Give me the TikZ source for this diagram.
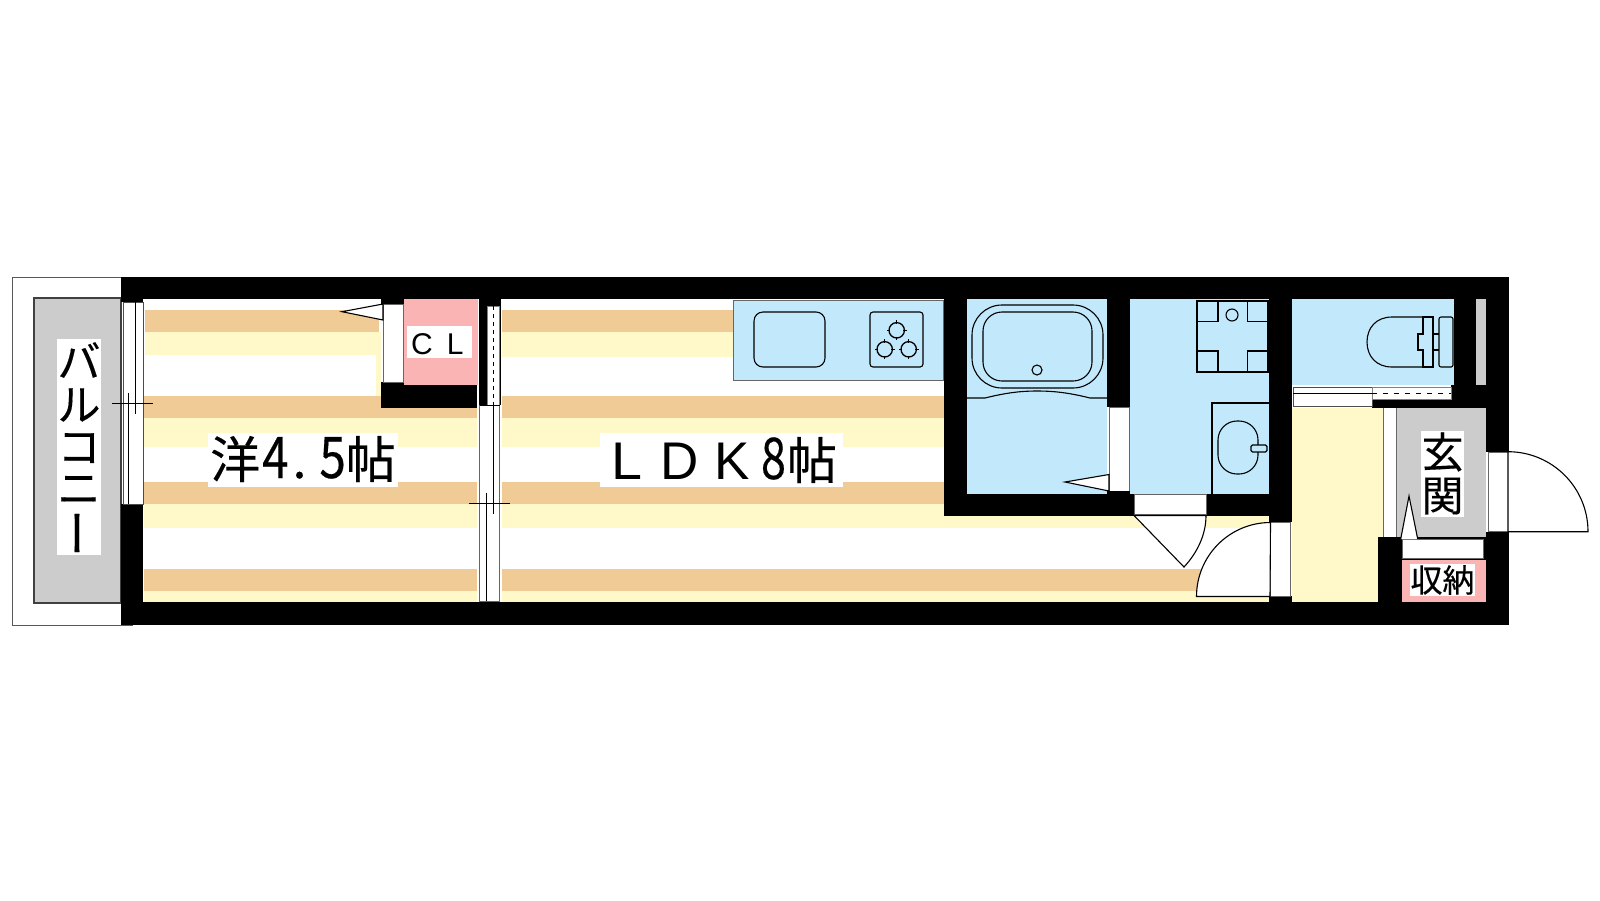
\documentclass[tikz,border=0pt]{standalone}
\usepackage{fontspec}
\newfontfamily\cjk[FakeBold=0.35]{Noto Sans CJK JP}
\newfontfamily\latn{Liberation Sans}
\definecolor{orangeband}{HTML}{F0CB96}
\definecolor{yellowband}{HTML}{FFF8C8}
\definecolor{wetblue}{HTML}{C2E9FB}
\definecolor{pinkbox}{HTML}{FAB4B4}
\definecolor{greyfloor}{HTML}{CCCCCC}
\definecolor{doorgrey}{HTML}{666666}
\tikzset{
  wall/.style={fill=black,draw=none},
  leaf/.style={draw=black,line width=1.1pt,fill=white,line join=miter},
  fixture/.style={draw=black,line width=1.1pt},
  door/.style={draw=doorgrey,line width=1pt,fill=white},
  rail/.style={draw=black,line width=1pt},
  label/.style={fill=none,inner sep=0pt,font=\cjk,text=black,align=center},
}
\begin{document}
\begin{tikzpicture}[x=1pt,y=-1pt]
\useasboundingbox (0,0) rectangle (1600,900);
\fill[white] (0,0) rectangle (1600,900);
% balcony
\draw[black!65,line width=1pt] (133,277) -- (12,277) -- (12,625) -- (133,625);
\draw[fill=greyfloor,draw=black!75,line width=1.2pt] (34,298) rectangle (121,603);
% stripes, west room
\foreach \xa/\xb in {144/477,502/944}{
  \fill[orangeband] (\xa,396) rectangle (\xb,418);
  \fill[yellowband] (\xa,418) rectangle (\xb,447);
  \fill[orangeband] (\xa,482) rectangle (\xb,504);
  \fill[yellowband] (\xa,504) rectangle (\xb,528);
}
\fill[orangeband] (145,310) rectangle (379,332);
\fill[yellowband] (145,332) rectangle (381,355);
\fill[yellowband] (376,355) rectangle (381,396);
\fill[orangeband] (144,569) rectangle (477,591);
\fill[yellowband] (144,591) rectangle (477,602);
% stripes, LDK
\fill[orangeband] (502,310) rectangle (733,332);
\fill[yellowband] (502,332) rectangle (733,357);
\fill[yellowband] (944,516) rectangle (1269,528);
\fill[orangeband] (502,569) rectangle (1269,591);
\fill[yellowband] (502,591) rectangle (1269,602);
% wet rooms
\fill[wetblue] (967,299) rectangle (1107,494);
\fill[wetblue] (1130,299) rectangle (1269,494);
\fill[wetblue] (1292,299) rectangle (1454,385);
\draw[fill=wetblue,draw=black!60,line width=1pt] (733,300) rectangle (943,380);
% hall and entry
\fill[yellowband] (1292,408) rectangle (1383,602);
\fill[greyfloor] (1396,408) rectangle (1486,537);
\fill[greyfloor] (1476,299) rectangle (1486,385);
\fill[pinkbox] (404,299) rectangle (478,385);
\fill[pinkbox] (1400,560) rectangle (1486,602);
% walls
\fill[wall] (121,277) rectangle (1509,299);
\fill[wall] (121,602) rectangle (1509,625);
\fill[wall] (121,277) rectangle (143,302);
\fill[wall] (121,504) rectangle (143,625);
\fill[wall] (381,299) rectangle (404,304);
\fill[wall] (381,382) rectangle (404,385);
\fill[wall] (381,385) rectangle (477,408);
\fill[wall] (479,299) rectangle (501,405);
\fill[wall] (944,299) rectangle (967,516);
\fill[wall] (967,494) rectangle (1269,516);
\fill[wall] (1107,299) rectangle (1130,407);
\fill[wall] (1269,299) rectangle (1292,522);
\fill[wall] (1269,596) rectangle (1292,602);
\fill[wall] (1454,299) rectangle (1476,408);
\fill[wall] (1372,399) rectangle (1454,408);
\fill[wall] (1451,385) rectangle (1509,408);
\fill[wall] (1486,299) rectangle (1509,452);
\fill[wall] (1378,537) rectangle (1402,602);
\fill[wall] (1486,532) rectangle (1509,602);
\fill[wall] (1483,537) rectangle (1486,560);
\fill[wall] (1402,537) rectangle (1483,539);
\fill[wall] (1402,558) rectangle (1483,560);
% balcony window
\draw[door,draw=black!70] (123,302) rectangle (143,504);
\coordinate (wa) at (128.3,393); \coordinate (wb) at (128.3,504);
\coordinate (wc) at (135.7,302); \coordinate (wd) at (135.7,414);
\coordinate (we) at (112,403.3); \coordinate (wf) at (153,403.3);
\draw[rail] (wa) -- (wb); \draw[rail] (wc) -- (wd); \draw[rail] (we) -- (wf);
% partition sliding doors
\draw[door,draw=black!50] (487,306) rectangle (499.5,405);
\coordinate (da) at (493.7,306); \coordinate (db) at (493.7,405);
\draw[rail,dash pattern=on 4pt off 4pt] (da) -- (db);
\draw[door] (479.7,405) rectangle (499.5,601);
\coordinate (pa) at (486.3,493); \coordinate (pb) at (486.3,601);
\coordinate (pc) at (493.7,405); \coordinate (pd) at (493.7,514);
\coordinate (pe) at (469,503.5); \coordinate (pf) at (510,503.5);
\coordinate (pg) at (479.7,405); \coordinate (ph) at (499.5,405);
\draw[rail] (pa) -- (pb); \draw[rail] (pc) -- (pd); \draw[rail] (pe) -- (pf); \draw[rail] (pg) -- (ph);
% closet door
\draw[door] (383,304) rectangle (403,382);
\draw[leaf] (383,304) -- (342,311.7) -- (383,320) -- cycle;
% kitchen fixtures
\draw[fixture] (754,312) [rounded corners=9pt] rectangle (825,367);
\draw[fixture] (870,312) [rounded corners=3pt] rectangle (923,367);
\foreach \cx/\cy in {896.7/330.3,884.7/349.3,908.7/349.3}{
  \draw[fixture,line width=1.3pt] (\cx,\cy) circle[radius=7.7];
  \foreach \a in {0,90,180,270}{
    \draw[black,line width=1pt] (\cx,\cy) ++(\a:6.5) -- ++(\a:3.5);
  }
}
% bath
\draw[fixture] (972,305) [rounded corners=30pt] rectangle (1103,388);
\draw[fixture] (983,312) [rounded corners=19pt] rectangle (1092,381);
\draw[fixture] (1037,370) circle[radius=5];
\draw[fixture] (967,398) -- (985,398) .. controls (1005,393) and (1020,391) .. (1037,391) .. controls (1055,391) and (1070,393) .. (1090,398) -- (1107,398);
\draw[door] (1109,407) rectangle (1129,491);
\draw[leaf] (1109,474.5) -- (1065,482) -- (1109,491) -- cycle;
\fill[wall] (1107,491) rectangle (1130,494);
% washroom
\draw[fixture] (1197,301) rectangle (1268,372);
\draw[fixture] (1197,321.7) -- (1218,321.7) -- (1218,301);
\draw[fixture] (1268,321.7) -- (1247.5,321.7) -- (1247.5,301);
\draw[fixture] (1197,351) -- (1218,351) -- (1218,372);
\draw[fixture] (1268,351) -- (1247.5,351) -- (1247.5,372);
\draw[fixture] (1232,315) circle[radius=6];
\draw[fixture] (1269,403) -- (1212,403) -- (1212,494);
\draw[fixture] (1218,421) [rounded corners=19pt] rectangle (1258,474);
\draw[fixture,fill=wetblue,rounded corners=1.5pt] (1251,445) rectangle (1267,452);
% doors of washroom and LDK
\draw[door] (1134,494) rectangle (1206,514);
\draw[leaf] (1206,515.5) -- (1134,515.5) -- (1184,567) .. controls (1197,553) and (1206,535) .. (1206,515.5);
\draw[door] (1270,522) rectangle (1290,596);
\draw[leaf] (1270,596.5) -- (1196.5,596.5) arc[start angle=180,end angle=270,radius=74] -- cycle;
% toilet
\draw[fixture] (1423,317) -- (1392,317) .. controls (1376,317) and (1367,328) .. (1367,342) .. controls (1367,356) and (1376,367) .. (1392,367) -- (1423,367);
\draw[fixture] (1423,317) -- (1433,317) -- (1433,367) -- (1423,367) -- (1423,350) -- (1418,350) -- (1418,334) -- (1423,334) -- cycle;
\draw[fixture] (1433,334) -- (1439,334) (1433,350) -- (1439,350);
\draw[fixture] (1439,317) [rounded corners=2pt] rectangle (1453,367);
% toilet sliding door
\draw[door,draw=black!70] (1293,387) rectangle (1372,406.7);
\coordinate (ta) at (1293,393.5); \coordinate (tb) at (1372,393.5);
\draw[rail] (ta) -- (tb);
\draw[door,draw=black!50] (1372,387) rectangle (1451,399);
\coordinate (tc) at (1372,393.5); \coordinate (td) at (1451,393.5);
\draw[rail,dash pattern=on 5pt off 6pt] (tc) -- (td);
% step
\fill[white] (1383,408) rectangle (1396,537);
\draw[doorgrey,line width=1pt] (1383,408) -- (1383,537) (1396,408) -- (1396,537);
% storage door
\draw[door] (1402,539) rectangle (1483,558);
\draw[leaf] (1400.7,539) -- (1409,496) -- (1417.7,539);
% entrance door
\draw[door] (1488,452) rectangle (1508,531.7);
\draw[leaf] (1508,531.7) -- (1588,531.7) arc[start angle=0,end angle=-90,radius=80] -- cycle;
% labels
\fill[white] (57,339) rectangle (101,555);
\node[label,font=\cjk\fontsize{43}{43}\selectfont] (n1) at (79,360) {バ};
\node[label,font=\cjk\fontsize{43}{43}\selectfont] (n2) at (79,405) {ル};
\node[label,font=\cjk\fontsize{43}{43}\selectfont] (n3) at (79,448) {コ};
\node[label,font=\cjk\fontsize{43}{43}\selectfont] (n4) at (79,490) {ニ};
\node[label,font=\cjk\fontsize{48}{48}\selectfont,rotate=90] (n5) at (85,533) {ー};
\fill[white] (208,433) rectangle (398,487);
\node[label,anchor=base west,font=\cjk\fontsize{50}{50}\selectfont] (room1) at (210,478) {洋\hspace{2pt}\scalebox{0.95}[1.15]{4}\hspace{4pt}.\hspace{13pt}\scalebox{0.95}[1.15]{5}帖};
\fill[white] (600,433) rectangle (843,487);
\node[label,anchor=base west,font=\cjk\fontsize{50}{50}\selectfont] (room2) at (611,479) {{\latn\fontsize{53}{53}\selectfont \scalebox{1.05}[1]{L}\hspace{18.5pt}D\hspace{15.7pt}K}\hspace{11pt}\scalebox{0.9}[1.15]{8}\hspace{1pt}帖};
\fill[white] (407,326) rectangle (472,358);
\node[label,anchor=base west,font=\latn\fontsize{30}{30}\selectfont] (cl) at (411,354) {C\hspace{14pt}L};
\fill[white] (1421,431) rectangle (1464,517);
\node[label,font=\cjk\fontsize{42}{42}\selectfont] (g1) at (1442.5,452) {玄};
\node[label,font=\cjk\fontsize{42}{42}\selectfont] (g2) at (1442.5,496) {関};
\fill[white] (1410,564) rectangle (1475,596);
\node[label,font=\cjk\fontsize{32}{32}\selectfont] (st) at (1442.5,580) {収納};
\end{tikzpicture}
\end{document}
